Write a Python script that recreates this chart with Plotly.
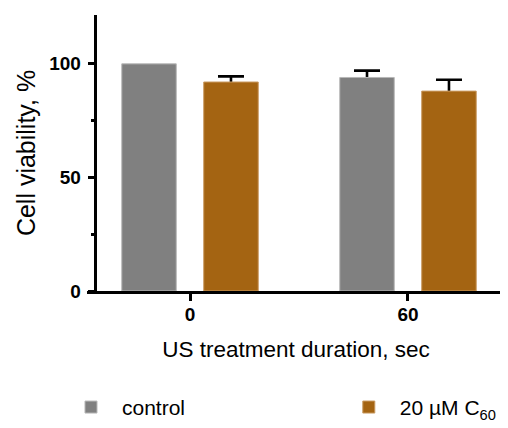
import plotly.graph_objects as go

categories = ["0", "60"]
control_vals = [100, 94]
control_err = [0, 3]
c60_vals = [92, 88]
c60_err = [2.5, 5]
series_names = ["control", "20 µM C<sub>60</sub>"]
y_tickvals = [0, 50, 100]
y_minor_tickvals = [25, 75]

GRAY = "#808080"
ORANGE = "#A46412"
FONT = "Arial, Liberation Sans, sans-serif"

fig = go.Figure()

series = [
    ("ctrl", series_names[0], control_vals, control_err, GRAY, "#b8b8b8", "legend"),
    ("c60", series_names[1], c60_vals, c60_err, ORANGE, "#c99a62", "legend2"),
]

# error bars (drawn first, so the bars cover the lower part of the whisker)
for grp, name, vals, errs, col, edge, lg in series:
    xs = [c for c, e in zip(categories, errs) if e > 0]
    ys = [v for v, e in zip(vals, errs) if e > 0]
    es = [e for e in errs if e > 0]
    fig.add_trace(go.Bar(
        x=xs, y=ys, offsetgroup=grp, showlegend=False, hoverinfo="skip",
        marker=dict(color="rgba(0,0,0,0)", line=dict(width=0)),
        error_y=dict(type="data", symmetric=False, array=es, arrayminus=ys,
                     color="black", thickness=2.6, width=13),
    ))

for grp, name, vals, errs, col, edge, lg in series:
    fig.add_trace(go.Bar(
        x=categories, y=vals, name=name, offsetgroup=grp, legend=lg,
        marker=dict(color=col, line=dict(color=edge, width=1)),
    ))

legend_common = dict(orientation="h", xanchor="left", yanchor="bottom", y=-0.496,
                     itemwidth=52, bgcolor="rgba(0,0,0,0)",
                     font=dict(size=21, family=FONT))

fig.update_layout(
    width=500, height=420,
    margin=dict(l=79, r=3, t=7, b=137, autoexpand=False),
    paper_bgcolor="white", plot_bgcolor="white",
    barmode="group", bargap=0.248, bargroupgap=0.335,
    font=dict(family=FONT, color="black"),
    showlegend=True,
    legend=dict(x=-0.0646, **legend_common),
    legend2=dict(x=0.6, **legend_common),
    xaxis=dict(
        type="category", categoryorder="array", categoryarray=categories,
        range=[-0.4725, 1.445],
        showline=True, linewidth=3, linecolor="black",
        ticks="outside", ticklen=7, tickwidth=2.5, tickcolor="black",
        tickfont=dict(size=19, family=FONT, weight="bold"),
        ticklabelstandoff=-3,
        showgrid=False, zeroline=False,
        title=dict(text="US treatment duration, sec", font=dict(size=22.5, family=FONT), standoff=18),
    ),
    yaxis=dict(
        range=[0, 121.5], anchor="free", position=0.0184,
        showline=True, linewidth=3, linecolor="black",
        tickmode="array", tickvals=y_tickvals,
        ticks="outside", ticklen=6, tickwidth=2.5, tickcolor="black",
        minor=dict(tickmode="array", tickvals=y_minor_tickvals, ticks="outside",
                   ticklen=3, tickwidth=2.5, tickcolor="black", showgrid=False),
        tickfont=dict(size=19, family=FONT, weight="bold"),
        ticklabelstandoff=3,
        showgrid=False, zeroline=False,
        title=dict(text="Cell viability, %", font=dict(size=25, family=FONT), standoff=5),
    ),
)

fig.write_html("out.html")
